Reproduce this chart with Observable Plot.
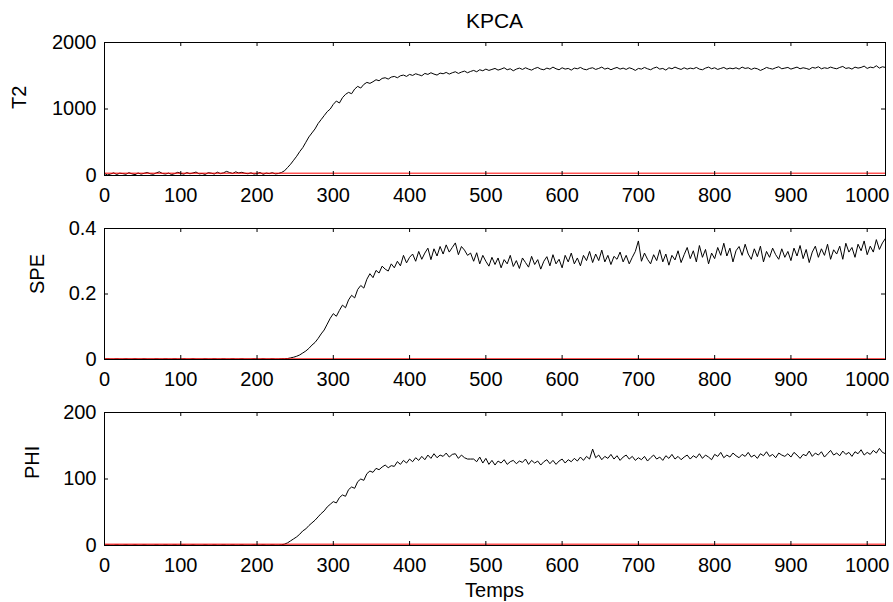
<!DOCTYPE html>
<html>
<head>
<meta charset="utf-8">
<script src="https://cdn.jsdelivr.net/npm/d3@7"></script>
<script src="https://cdn.jsdelivr.net/npm/@observablehq/plot@0.6"></script>
<style>
  html, body { margin: 0; padding: 0; background: #fff; }
  #chart { position: relative; width: 893px; height: 602px; background: #fff; font-family: "Liberation Sans", Arial, sans-serif; }
  #chart svg { position: absolute; left: 0; }
  .lbl { position: absolute; left: 104px; width: 781px; text-align: center; color: #000; white-space: nowrap; }
</style>
</head>
<body>
<div id="chart">
  <div class="lbl" id="title" style="top:10px;font-size:21px;line-height:21px;">KPCA</div>
  <div class="lbl" id="xlabel" style="top:580px;font-size:20px;line-height:20px;">Temps</div>
</div>
<script>
// sample times (every 4 samples, 0..1024)
const times = d3.range(0, 1025, 4);

const xTicks = [0, 100, 200, 300, 400, 500, 600, 700, 800, 900, 1000];

const t2Values = [
  30, 8, 22, 40, 15, 35, 28, 18, 42, 25, 12, 38, 20, 33, 45, 26,
  18, 40, 55, 30, 22, 36, 14, 28, 48, 32, 20, 44, 26, 38, 52, 24,
  30, 16, 42, 35, 22, 50, 28, 40, 62, 45, 30, 55, 38, 48, 34, 26,
  40, 22, 30, 45, 18, 36, 28, 42, 24, 30, 45, 70, 120, 170, 230, 290,
  360, 420, 500, 580, 640, 700, 780, 840, 900, 960, 1000, 1070, 1120, 1090, 1170, 1220,
  1250, 1230, 1300, 1340, 1315, 1370, 1400, 1385, 1410, 1440, 1425, 1460, 1470, 1450, 1480, 1490,
  1470, 1500, 1510, 1490, 1520, 1505, 1530, 1515, 1500, 1535, 1520, 1545, 1525, 1510, 1540, 1530,
  1550, 1525, 1545, 1560, 1535, 1555, 1570, 1545, 1565, 1580, 1560, 1590, 1575, 1600, 1580, 1595,
  1610, 1585, 1600, 1620, 1590, 1605, 1575, 1600, 1615, 1595, 1620, 1600, 1585, 1610, 1625, 1600,
  1590, 1615, 1600, 1630, 1605, 1590, 1620, 1600, 1610, 1585, 1615, 1605, 1625, 1600, 1590, 1610,
  1620, 1595, 1610, 1630, 1600, 1615, 1590, 1610, 1625, 1600, 1615, 1595, 1620, 1605, 1580, 1610,
  1600, 1625, 1605, 1590, 1615, 1630, 1600, 1610, 1585, 1620, 1605, 1630, 1610, 1595, 1620, 1600,
  1615, 1605, 1625, 1600, 1590, 1615, 1630, 1605, 1620, 1595, 1610, 1625, 1600, 1615, 1605, 1620,
  1600, 1630, 1610, 1620, 1595, 1615, 1605, 1580, 1600, 1625, 1610, 1600, 1620, 1635, 1605, 1615,
  1625, 1600, 1615, 1630, 1605, 1620, 1610, 1595, 1625, 1615, 1635, 1605, 1620, 1610, 1630, 1615,
  1605, 1625, 1640, 1610, 1620, 1600, 1630, 1615, 1625, 1645, 1610, 1630, 1620, 1650, 1615, 1635,
  1625
];

const speValues = [
  0.001, 0.002, 0.001, 0.001, 0.002, 0.001, 0.001, 0.002, 0.001, 0.001, 0.002, 0.001, 0.001, 0.002, 0.001, 0.001,
  0.001, 0.002, 0.001, 0.001, 0.002, 0.001, 0.001, 0.002, 0.001, 0.001, 0.002, 0.001, 0.001, 0.002, 0.001, 0.001,
  0.001, 0.002, 0.001, 0.001, 0.002, 0.001, 0.001, 0.002, 0.001, 0.001, 0.002, 0.001, 0.001, 0.002, 0.001, 0.001,
  0.001, 0.002, 0.001, 0.001, 0.002, 0.001, 0.001, 0.002, 0.001, 0.001, 0.002, 0.002, 0.003, 0.005, 0.007, 0.010,
  0.014, 0.020, 0.026, 0.034, 0.044, 0.052, 0.064, 0.078, 0.090, 0.108, 0.126, 0.140, 0.132, 0.150, 0.166, 0.158,
  0.182, 0.196, 0.188, 0.214, 0.226, 0.218, 0.245, 0.262, 0.250, 0.272, 0.264, 0.285, 0.276, 0.270, 0.292, 0.280,
  0.300, 0.286, 0.318, 0.295, 0.312, 0.322, 0.300, 0.330, 0.306, 0.325, 0.340, 0.305, 0.338, 0.316, 0.345, 0.322,
  0.350, 0.328, 0.342, 0.356, 0.320, 0.345, 0.334, 0.318, 0.325, 0.300, 0.326, 0.292, 0.318, 0.300, 0.285, 0.312,
  0.290, 0.310, 0.280, 0.305, 0.292, 0.318, 0.284, 0.302, 0.278, 0.310, 0.296, 0.282, 0.315, 0.290, 0.305, 0.276,
  0.300, 0.314, 0.286, 0.320, 0.292, 0.306, 0.280, 0.318, 0.298, 0.325, 0.292, 0.310, 0.286, 0.318, 0.302, 0.330,
  0.296, 0.322, 0.302, 0.334, 0.298, 0.318, 0.290, 0.315, 0.306, 0.328, 0.298, 0.318, 0.292, 0.312, 0.330, 0.362,
  0.300, 0.325, 0.306, 0.292, 0.320, 0.302, 0.335, 0.298, 0.322, 0.288, 0.318, 0.304, 0.332, 0.296, 0.320, 0.342,
  0.308, 0.332, 0.298, 0.348, 0.312, 0.336, 0.292, 0.325, 0.308, 0.342, 0.318, 0.355, 0.316, 0.340, 0.298, 0.332,
  0.345, 0.318, 0.352, 0.322, 0.306, 0.338, 0.314, 0.346, 0.298, 0.330, 0.312, 0.340, 0.320, 0.306, 0.338, 0.312,
  0.330, 0.302, 0.340, 0.316, 0.348, 0.308, 0.336, 0.296, 0.328, 0.346, 0.312, 0.338, 0.318, 0.352, 0.306, 0.335,
  0.322, 0.346, 0.306, 0.355, 0.328, 0.342, 0.312, 0.352, 0.332, 0.362, 0.320, 0.346, 0.328, 0.366, 0.336, 0.356,
  0.370
];

const phiValues = [
  0.5, 1, 0.5, 0.5, 1, 0.5, 0.5, 1, 0.5, 0.5, 1, 0.5, 0.5, 1, 0.5, 0.5,
  0.5, 1, 0.5, 0.5, 1, 0.5, 0.5, 1, 0.5, 0.5, 1, 0.5, 0.5, 1, 0.5, 0.5,
  0.5, 1, 0.5, 0.5, 1, 0.5, 0.5, 1, 0.5, 0.5, 1, 0.5, 0.5, 1, 0.5, 0.5,
  0.5, 1, 0.5, 0.5, 1, 0.5, 0.5, 1, 0.5, 0.5, 1, 2, 4, 7, 10, 13,
  17, 22, 25, 30, 34, 38, 43, 48, 52, 58, 62, 66, 64, 72, 76, 74,
  84, 88, 86, 96, 100, 98, 108, 112, 110, 116, 114, 118, 121, 117, 120, 119,
  126, 122, 128, 124, 130, 126, 132, 128, 134, 129, 136, 131, 138, 132, 136, 134,
  139, 133, 137, 138, 131, 136, 132, 130, 130, 130, 126, 133, 124, 131, 122, 128,
  121, 127, 124, 129, 122, 126, 128, 123, 127, 125, 130, 122, 128, 124, 127, 121,
  126, 129, 123, 128, 122, 127, 130, 124, 129, 126, 131, 127, 133, 128, 134, 130,
  145, 132, 136, 129, 134, 131, 137, 130, 135, 128, 133, 136, 130, 134, 128, 132,
  129, 134, 127, 132, 136, 130, 133, 128, 135, 131, 137, 130, 134, 129, 133, 136,
  130, 135, 132, 138, 131, 136, 133, 129, 137, 134, 140, 132, 136, 133, 139, 135,
  132, 137, 134, 140, 133, 136, 131, 138, 135, 141, 134, 137, 132, 139, 136, 134,
  138, 133, 140, 136, 131, 137, 135, 142, 134, 139, 136, 141, 133, 138, 143, 136,
  139, 135, 142, 137, 140, 134, 141, 138, 144, 136, 140, 137, 143, 139, 146, 140,
  138
];

const panels = [
  {label: "T2",  values: t2Values,  threshold: 35,    domain: [0, 2000], ticks: [0, 1000, 2000], top: 0,   mt: 42, frameH: 133, labelDx: -84.5},
  {label: "SPE", values: speValues, threshold: 0.002, domain: [0, 0.4],  ticks: [0, 0.2, 0.4],   top: 210, mt: 18, frameH: 131, labelDx: -66.5},
  {label: "PHI", values: phiValues, threshold: 2,     domain: [0, 200],  ticks: [0, 100, 200],   top: 394, mt: 18, frameH: 133, labelDx: -72}
];

const chart = document.getElementById("chart");
const frameW = 893 - 104 - 8;
const TICK = 4;

for (const p of panels) {
  const data = times.map((t, i) => ({t, v: p.values[i]}));
  const mb = 35;
  const svg = Plot.plot({
    width: 893,
    height: p.mt + p.frameH + mb,
    marginLeft: 104,
    marginRight: 8,
    marginTop: p.mt,
    marginBottom: mb,
    style: {fontFamily: '"Liberation Sans", Arial, sans-serif', fontSize: "20px", background: "transparent", color: "#000", overflow: "visible"},
    x: {domain: [0, 1024], axis: null},
    y: {domain: p.domain, axis: null},
    marks: [
      Plot.lineY(data, {x: "t", y: "v", stroke: "black", strokeWidth: 1}),
      Plot.ruleY([p.threshold], {stroke: "red", strokeWidth: 1}),
      Plot.frame({stroke: "black", strokeWidth: 1}),
      // inward ticks (bottom, top, left, right)
      Plot.tickX(xTicks, {x: d => d, stroke: "black", insetTop: p.frameH - TICK}),
      Plot.tickX(xTicks, {x: d => d, stroke: "black", insetBottom: p.frameH - TICK}),
      Plot.tickY(p.ticks, {y: d => d, stroke: "black", insetRight: frameW - TICK}),
      Plot.tickY(p.ticks, {y: d => d, stroke: "black", insetLeft: frameW - TICK}),
      // tick labels
      Plot.axisX({ticks: xTicks, anchor: "bottom", tickSize: 0, tickPadding: 12, tickFormat: d => String(d), label: null, fill: "black"}),
      Plot.axisY({ticks: p.ticks, anchor: "left", tickSize: 0, tickPadding: 8, tickFormat: d => String(d), label: null, fill: "black"}),
      // y label
      Plot.text([p.label], {text: d => d, frameAnchor: "left", rotate: -90, dx: p.labelDx, fontSize: 20, fill: "black"})
    ]
  });
  svg.style.top = p.top + "px";
  chart.appendChild(svg);
}
</script>
</body>
</html>
